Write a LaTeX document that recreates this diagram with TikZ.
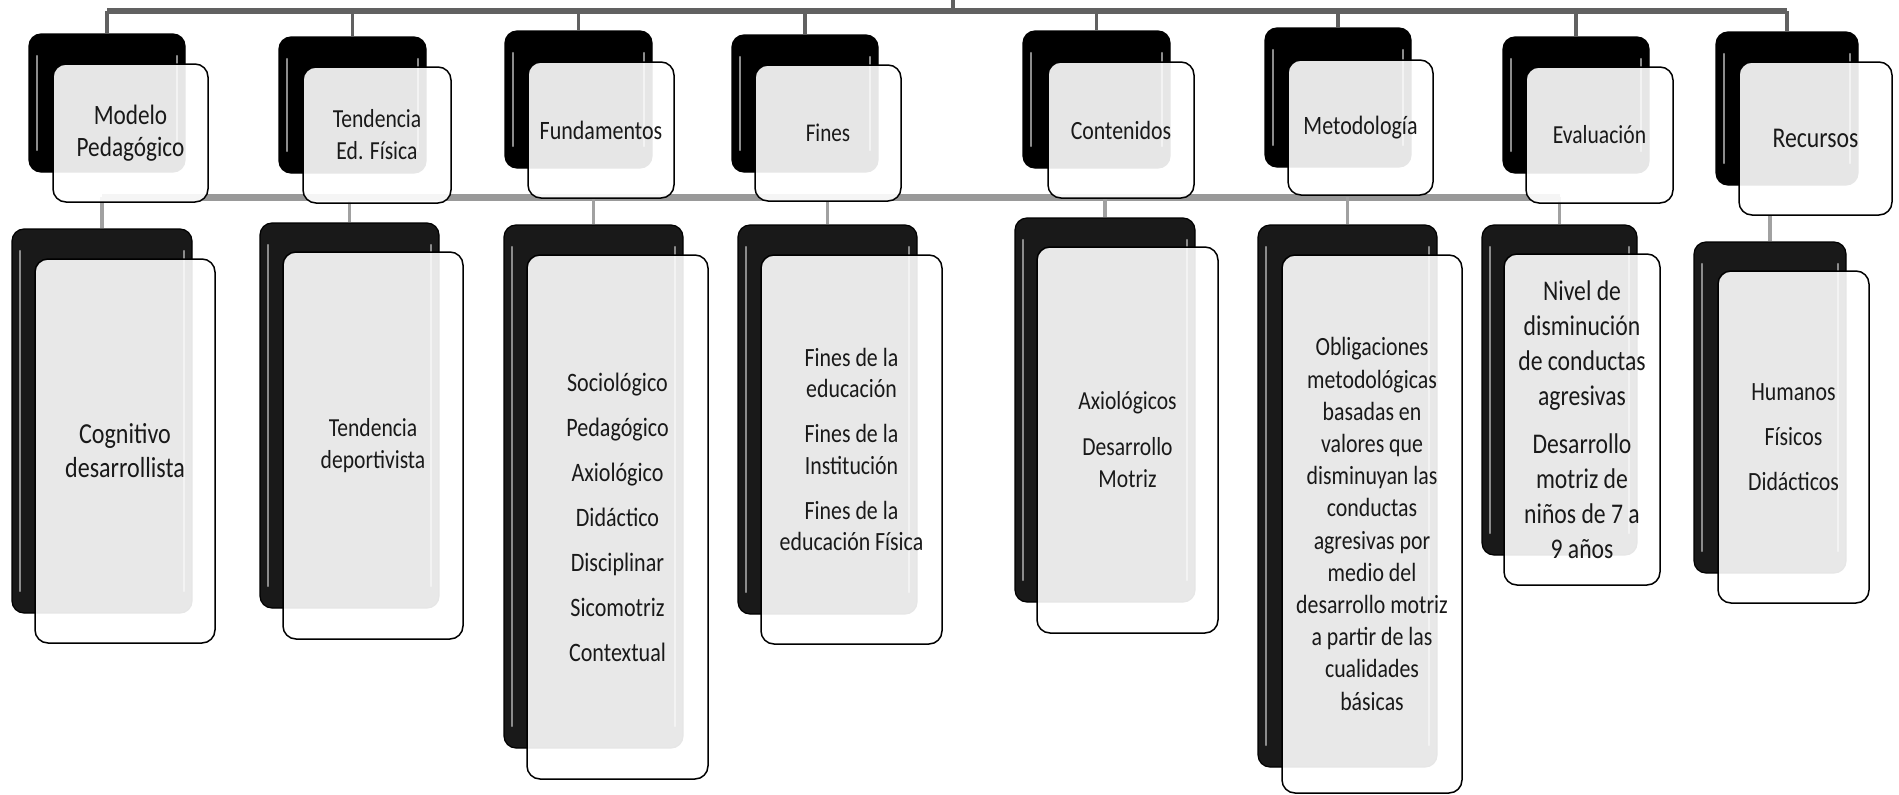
\documentclass[tikz,border=0pt]{standalone}
\usepackage{fontspec}
\setmainfont{Carlito}[FakeStretch=0.83]
\usetikzlibrary{backgrounds}
\newcommand\setfs[2]{\fontsize{#1}{#2}\selectfont}
\tikzset{
  blk/.style={fill=black, draw=black, line width=1.2pt, rounded corners=12pt, inner sep=0pt,
    path picture={
      \draw[white!55!black, line width=2.2pt, line cap=round]
        ([xshift=8pt,yshift=-22pt]path picture bounding box.north west) --
        ([xshift=8pt,yshift=22pt]path picture bounding box.south west);
      \draw[white!55!black, line width=2.2pt, line cap=round]
        ([xshift=-8pt,yshift=-22pt]path picture bounding box.north east) --
        ([xshift=-8pt,yshift=22pt]path picture bounding box.south east);
    }},
  blkc/.style={blk, fill=black!90},
  lgt/.style={draw=black, line width=1.5pt, fill=white, fill opacity=0.9, text opacity=1,
    rounded corners=13pt, inner sep=0pt, align=center, text=black!90},
  topln/.style={draw=black!62, line width=5.5pt},
  vtop/.style={draw=black!62, line width=3.5pt},
  midln/.style={draw=black!40, line width=7pt},
  vchild/.style={draw=black!37, line width=3.5pt}
}
\begin{document}
\begin{tikzpicture}[x=1pt,y=-1pt]
\useasboundingbox (0,0) rectangle (1899,795);

% ---------- top level ----------
\node[blk, minimum width=156pt, minimum height=138pt] (b1) at (107,103) {};
\node[lgt, minimum width=155pt, minimum height=138pt, font={\setfs{28}{32}}] (l1) at (130.5,133) {Modelo\\Pedagógico};

\node[blk, minimum width=147pt, minimum height=136pt] (b2) at (352.5,105) {};
\node[lgt, minimum width=148pt, minimum height=136pt, font={\setfs{26}{32}}] (l2) at (377,135) {Tendencia\\Ed. Física};

\node[blk, minimum width=147pt, minimum height=137pt] (b3) at (578.5,99.5) {};
\node[lgt, minimum width=146pt, minimum height=136pt, font={\setfs{26.5}{32}}] (l3) at (601,130) {Fundamentos};

\node[blk, minimum width=146pt, minimum height=137pt] (b4) at (805,103.5) {};
\node[lgt, minimum width=146pt, minimum height=136pt, font={\setfs{25.5}{32}}] (l4) at (828,133) {Fines};

\node[blk, minimum width=147pt, minimum height=137pt] (b5) at (1096.5,99.5) {};
\node[lgt, minimum width=146pt, minimum height=136pt, font={\setfs{26.3}{32}}] (l5) at (1121,130) {Contenidos};

\node[blk, minimum width=146pt, minimum height=139pt] (b6) at (1338,97.5) {};
\node[lgt, minimum width=145pt, minimum height=135pt, font={\setfs{26.5}{32}}] (l6) at (1360.5,127.5) {Metodología};

\node[blk, minimum width=146pt, minimum height=136pt] (b7) at (1576,105) {};
\node[lgt, minimum width=147pt, minimum height=136pt, font={\setfs{26}{32}}] (l7) at (1599.5,135) {Evaluación};

\node[blk, minimum width=142pt, minimum height=153pt] (b8) at (1787,108.5) {};
\node[lgt, minimum width=153pt, minimum height=153pt, font={\setfs{28.6}{32}}] (l8) at (1815.5,138.5) {Recursos};

% ---------- children ----------
\node[blkc, minimum width=180pt, minimum height=384pt] (c1) at (102,421) {};
\node[lgt, minimum width=180pt, minimum height=384pt, font={\setfs{29}{34}}] (d1) at (125,451) {Cognitivo\\desarrollista};

\node[blkc, minimum width=179pt, minimum height=385pt] (c2) at (349.5,415.5) {};
\node[lgt, minimum width=180pt, minimum height=387pt, font={\setfs{26}{32}}] (d2) at (373,445.5) {Tendencia\\deportivista};

\node[blkc, minimum width=179pt, minimum height=523pt] (c3) at (593.5,486.5) {};
\node[lgt, minimum width=181pt, minimum height=524pt, font={\setfs{26.6}{45}}] (d3) at (617.5,517) {Sociológico\\Pedagógico\\Axiológico\\Didáctico\\Disciplinar\\Sicomotriz\\Contextual};

\node[blkc, minimum width=179pt, minimum height=389pt] (c4) at (827.5,419.5) {};
\node[lgt, minimum width=181pt, minimum height=389pt, font={\setfs{26.3}{31.5}}] (d4) at (851.5,449.5) {Fines de la\\educación\\[13.5pt]Fines de la\\Institución\\[13.5pt]Fines de la\\educación Física};

\node[blkc, minimum width=180pt, minimum height=384pt] (c5) at (1105,410) {};
\node[lgt, minimum width=181pt, minimum height=386pt, font={\setfs{26}{32}}] (d5) at (1127.5,440) {Axiológicos\\[14pt]Desarrollo\\Motriz};

\node[blkc, minimum width=179pt, minimum height=542pt] (c6) at (1347.5,496) {};
\node[lgt, minimum width=180pt, minimum height=538pt, font={\setfs{26.3}{32.2}}] (d6) at (1372,524) {Obligaciones\\metodológicas\\basadas en\\valores que\\disminuyan las\\conductas\\agresivas por\\medio del\\desarrollo motriz\\a partir de las\\cualidades\\básicas};

\node[blkc, minimum width=155pt, minimum height=330pt] (c7) at (1559.5,390) {};
\node[lgt, minimum width=156pt, minimum height=331pt, font={\setfs{28.5}{35}}] (d7) at (1582,419.5) {Nivel de\\disminución\\de conductas\\agresivas\\[13pt]Desarrollo\\motriz de\\niños de 7 a\\9 años};

\node[blkc, minimum width=152pt, minimum height=331pt] (c8) at (1770,407.5) {};
\node[lgt, minimum width=151pt, minimum height=332pt, font={\setfs{26.3}{45}}] (d8) at (1793.5,437) {Humanos\\Físicos\\Didácticos};

% ---------- connectors ----------
\coordinate (root) at (953,0);
\coordinate (top) at (953,11);
\coordinate (mid) at (0,197);
\begin{pgfonlayer}{background}
  \draw[vtop] (root) -- (top);
  \draw[topln] (b1.north |- top) -- (b8.north |- top);
  \foreach \n in {b1,b2,b3,b4,b5,b6,b7,b8}
    \draw[vtop] (\n.north |- top) -- (\n.north);
  \draw[midln] (c1.north |- mid) -- (c7.north |- mid);
  \foreach \n in {c1,c2,c3,c4,c5,c6,c7}
    \draw[vchild] (\n.north |- mid) -- (\n.north);
  \draw[vchild] (c8.north |- l8.south) -- (c8.north);
\end{pgfonlayer}
\end{tikzpicture}
\end{document}
